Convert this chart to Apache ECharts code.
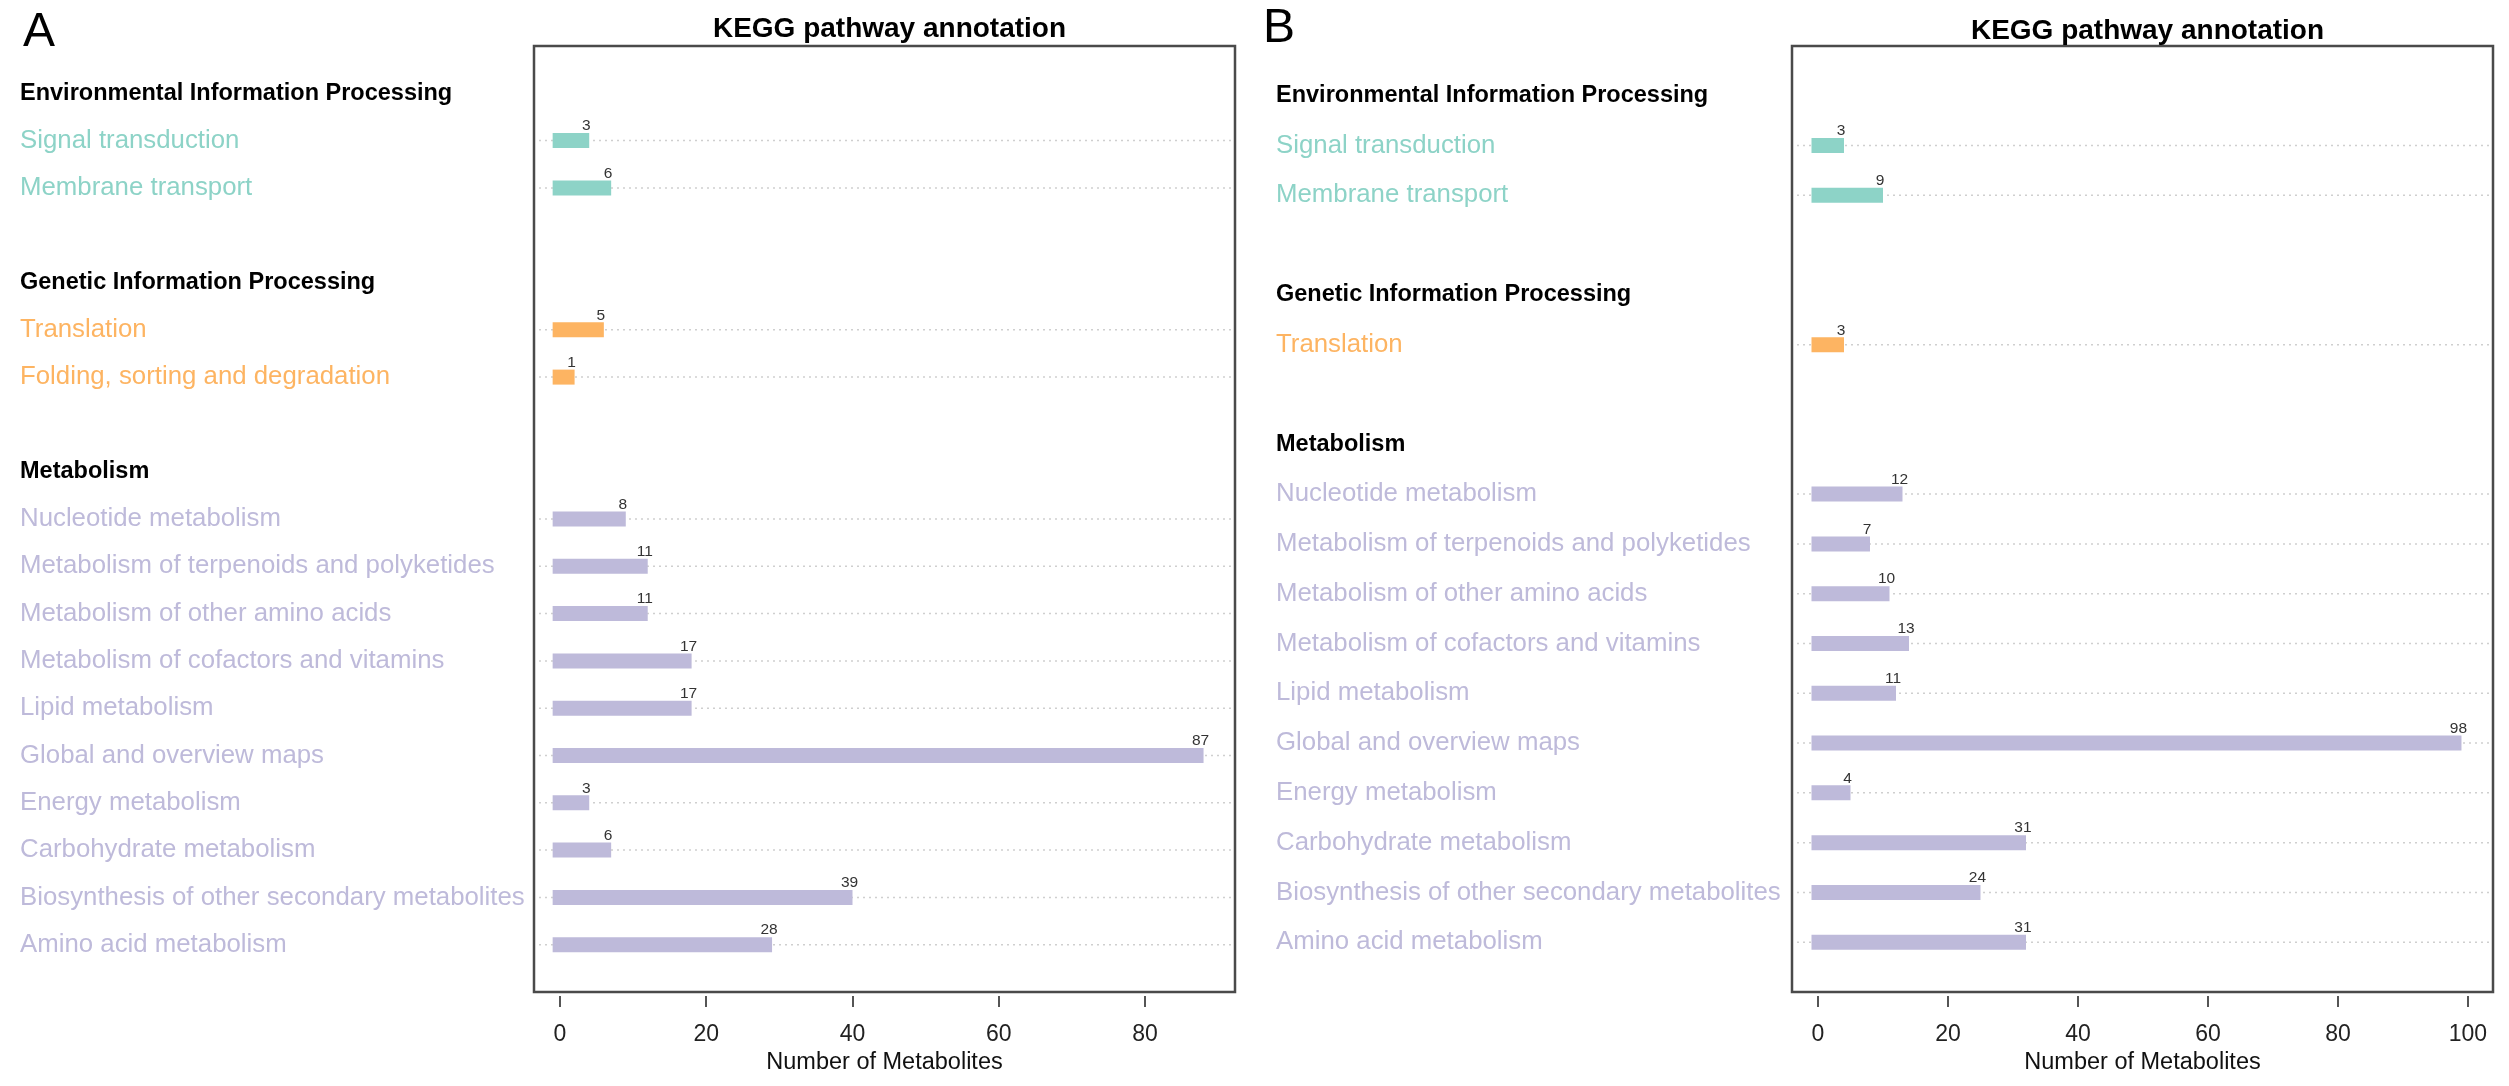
<!DOCTYPE html>
<html>
<head>
<meta charset="utf-8">
<title>KEGG pathway annotation</title>
<script src="https://cdn.jsdelivr.net/npm/echarts@6/dist/echarts.min.js"></script>
<style>
  html, body { margin: 0; padding: 0; background: #fff; }
  #main { width: 2509px; height: 1086px; }
</style>
</head>
<body>
<div id="main"></div>
<script>
// pathway groups and colours (same for both panels)
const groupNames = ['Environmental Information Processing', 'Genetic Information Processing', 'Metabolism']
const groupColors = ['#8DD3C7', '#FDB462', '#BEBADA']

// panel A
const envRowsA = ['Signal transduction', 'Membrane transport']
const envCountsA = [3, 6]
const genRowsA = ['Translation', 'Folding, sorting and degradation']
const genCountsA = [5, 1]
const metRowsA = ['Nucleotide metabolism', 'Metabolism of terpenoids and polyketides', 'Metabolism of other amino acids',
  'Metabolism of cofactors and vitamins', 'Lipid metabolism', 'Global and overview maps', 'Energy metabolism',
  'Carbohydrate metabolism', 'Biosynthesis of other secondary metabolites', 'Amino acid metabolism']
const metCountsA = [8, 11, 11, 17, 17, 87, 3, 6, 39, 28]
const ticksA = [0, 20, 40, 60, 80]

// panel B
const envRowsB = ['Signal transduction', 'Membrane transport']
const envCountsB = [3, 9]
const genRowsB = ['Translation']
const genCountsB = [3]
const metRowsB = metRowsA.slice()
const metCountsB = [12, 7, 10, 13, 11, 98, 4, 31, 24, 31]
const ticksB = [0, 20, 40, 60, 80, 100]

const FONT = 'Liberation Sans'

// one blank row, then header + pathways + blank for each group
function buildRows (groups) {
  let labels = ['']
  let kinds = ['gap']
  let items = []
  groups.forEach((g, gi) => {
    labels.push(groupNames[gi])
    kinds.push('h')
    g.rows.forEach((name, i) => {
      items.push([g.counts[i], labels.length, gi])
      labels.push(name)
      kinds.push('g' + gi)
    })
    labels.push('')
    kinds.push('gap')
  })
  return {labels, kinds, items}
}

const panelA = buildRows([
  {rows: envRowsA, counts: envCountsA},
  {rows: genRowsA, counts: genCountsA},
  {rows: metRowsA, counts: metCountsA}
])
const panelB = buildRows([
  {rows: envRowsB, counts: envCountsB},
  {rows: genRowsB, counts: genCountsB},
  {rows: metRowsB, counts: metCountsB}
])

function renderBar (params, api) {
  const v = api.value(0)
  const row = api.value(1)
  const g = api.value(2)
  const start = api.coord([-1, row])
  const end = api.coord([v + 1, row])
  const cs = params.coordSys
  const h = 15
  return {
    type: 'group',
    children: [
      {
        type: 'line',
        shape: {x1: cs.x + 5, y1: start[1], x2: cs.x + cs.width, y2: start[1]},
        style: {stroke: '#cfcfcf', lineWidth: 1.5, lineDash: [2, 4]}
      },
      {
        type: 'rect',
        shape: {x: start[0], y: start[1] - h / 2, width: end[0] - start[0], height: h},
        style: {fill: groupColors[g]}
      },
      {
        type: 'text',
        x: end[0] - 3,
        y: start[1] - h / 2 + 1,
        style: {text: String(v), fontSize: 15.5, fontFamily: FONT, fill: '#333', align: 'center', verticalAlign: 'bottom'}
      }
    ]
  }
}

const richLabels = {
  h: {fontFamily: FONT, fontSize: 23.5, fontWeight: 'bold', color: '#000'},
  g0: {fontFamily: FONT, fontSize: 25.8, color: groupColors[0]},
  g1: {fontFamily: FONT, fontSize: 25.8, color: groupColors[1]},
  g2: {fontFamily: FONT, fontSize: 25.8, color: groupColors[2]}
}

const gridLeft = [534, 1792]
const gridWidth = 701
const panels = [panelA, panelB]
const ticks = [ticksA, ticksB]
const xRange = [[-3.55, 92.3], [-4.0, 103.85]]
const labelMargin = [514, 516]

const option = {
  backgroundColor: '#fff',
  animation: false,
  title: [
    {text: 'A', left: 18, top: 4, textStyle: {fontFamily: FONT, fontSize: 48, fontWeight: 'normal', color: '#000'}},
    {text: 'B', left: 1258, top: 0, textStyle: {fontFamily: FONT, fontSize: 48, fontWeight: 'normal', color: '#000'}},
    {text: 'KEGG pathway annotation', left: gridLeft[0] + gridWidth / 2, textAlign: 'center', top: 10,
      textStyle: {fontFamily: FONT, fontSize: 28, fontWeight: 'bold', color: '#000'}},
    {text: 'KEGG pathway annotation', left: gridLeft[1] + gridWidth / 2, textAlign: 'center', top: 12,
      textStyle: {fontFamily: FONT, fontSize: 28, fontWeight: 'bold', color: '#000'}}
  ],
  grid: gridLeft.map(l => ({
    left: l, width: gridWidth, top: 46, height: 946,
    show: true, borderColor: '#4a4a4a', borderWidth: 2.5, backgroundColor: '#fff'
  })),
  xAxis: panels.map((p, i) => ({
    type: 'value',
    gridIndex: i,
    min: xRange[i][0],
    max: xRange[i][1],
    offset: 4,
    name: 'Number of Metabolites',
    nameLocation: 'middle',
    nameGap: 54,
    nameTextStyle: {fontFamily: FONT, fontSize: 23.5, color: '#111'},
    axisLine: {show: false},
    splitLine: {show: false},
    axisTick: {show: true, length: 11, customValues: ticks[i], lineStyle: {color: '#555', width: 2}},
    axisLabel: {customValues: ticks[i], margin: 27, fontFamily: FONT, fontSize: 23, color: '#222'}
  })),
  yAxis: panels.map((p, i) => ({
    type: 'category',
    gridIndex: i,
    inverse: true,
    boundaryGap: false,
    data: p.labels,
    axisLine: {show: false},
    axisTick: {show: false},
    splitLine: {show: false},
    axisLabel: {
      interval: 0,
      align: 'left',
      margin: labelMargin[i],
      rich: richLabels,
      formatter: (value, idx) => p.kinds[idx] === 'gap' ? '' : `{${p.kinds[idx]}|${value}}`
    }
  })),
  series: panels.map((p, i) => ({
    type: 'custom',
    xAxisIndex: i,
    yAxisIndex: i,
    renderItem: renderBar,
    encode: {x: 0, y: 1},
    data: p.items
  }))
}

const chart = echarts.init(document.getElementById('main'))
chart.setOption(option)
</script>
</body>
</html>
